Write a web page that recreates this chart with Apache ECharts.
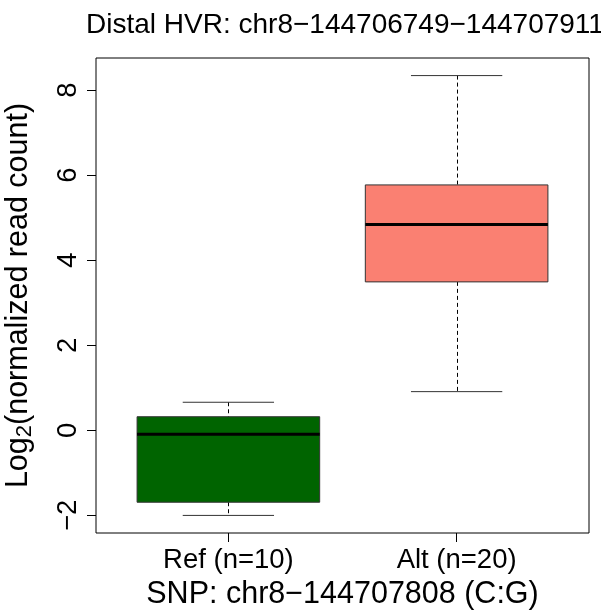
<!DOCTYPE html>
<html>
<head>
<meta charset="utf-8">
<script src="https://cdn.jsdelivr.net/npm/echarts@6/dist/echarts.min.js"></script>
<style>html,body{margin:0;padding:0;background:#fff}#c{width:601px;height:610px}</style>
</head>
<body>
<div id="c"></div>
<script>
// ---- data ----
var categories = ['Ref (n=10)', 'Alt (n=20)'];
var whiskerLow  = [-2.00, 0.91];
var q1          = [-1.69, 3.49];
var median      = [-0.09, 4.84];
var q3          = [ 0.32, 5.77];
var whiskerHigh = [ 0.66, 8.34];
var yTicks = [-2, 0, 2, 4, 6, 8];
var titleText = 'Distal HVR: chr8\u2212144706749\u2212144707911';
var xName = 'SNP: chr8\u2212144707808 (C:G)';

// ---- styles ----
var boxColors = ['#006400', '#FA8072'];
var FONT = 'Liberation Sans, Arial, sans-serif';
var FS_TICK = 27.5;
var FS_LAB = 30.5;
var FS_TITLE = 28;

var xPos = categories.map(function (_, i) { return i + 1; });
var seriesData = categories.map(function (c, i) {
  return [xPos[i], whiskerLow[i], q1[i], median[i], q3[i], whiskerHigh[i]];
});

var lo = Math.min.apply(null, whiskerLow), hi = Math.max.apply(null, whiskerHigh);
var pad = (hi - lo) * 0.04;
var xPad = categories.length * 0.04;

var chart = echarts.init(document.getElementById('c'), null, {renderer: 'canvas'});
chart.setOption({
  animation: false,
  backgroundColor: '#fff',
  title: {
    text: titleText,
    left: 340, top: 6, textAlign: 'center',
    textStyle: {fontFamily: FONT, fontSize: FS_TITLE, fontWeight: 'normal', color: '#000'}
  },
  grid: {left: 96, top: 58, width: 493, height: 475, containLabel: false, outerBoundsMode: 'none',
    show: true, borderColor: '#000', borderWidth: 1, backgroundColor: 'transparent'},
  xAxis: {
    type: 'value',
    min: 0.5 - xPad, max: categories.length + 0.5 + xPad,
    splitLine: {show: false},
    axisLine: {show: false, onZero: false},
    axisTick: {show: true, length: 9, customValues: xPos, lineStyle: {color: '#000'}},
    axisLabel: {
      customValues: xPos, margin: 13, color: '#000', fontFamily: FONT, fontSize: FS_TICK,
      formatter: function (v) { return categories[Math.round(v) - 1] || ''; }
    },
    name: xName, nameLocation: 'middle', nameGap: 44,
    nameTextStyle: {fontFamily: FONT, fontSize: FS_LAB, color: '#000'}
  },
  yAxis: {
    type: 'value',
    min: lo - pad, max: hi + pad,
    splitLine: {show: false},
    axisLine: {show: false, onZero: false},
    axisTick: {show: true, length: 9, customValues: yTicks, lineStyle: {color: '#000'}},
    axisLabel: {
      customValues: yTicks, rotate: 90, margin: 14, color: '#000', fontFamily: FONT, fontSize: FS_TICK,
      formatter: function (v) { return v < 0 ? '\u2212' + Math.abs(v) : String(v); }
    },
    name: '{a|Log}{s|2}{a|(normalized read count)}',
    nameLocation: 'middle', nameGap: 60, nameRotate: 90,
    nameTextStyle: {
      color: '#000',
      rich: {
        a: {fontFamily: FONT, fontSize: FS_LAB, color: '#000'},
        s: {fontFamily: FONT, fontSize: 22, color: '#000', padding: [13, 0, 0, 0]}
      }
    }
  },
  series: [{
    type: 'custom',
    data: seriesData,
    encode: {x: 0, y: [1, 2, 3, 4, 5]},
    renderItem: function (params, api) {
      var x = api.value(0);
      var vMin = api.value(1), vQ1 = api.value(2), vMed = api.value(3), vQ3 = api.value(4), vMax = api.value(5);
      var pL = api.coord([x - 0.4, vQ3]);
      var pR = api.coord([x + 0.4, vQ1]);
      var cL = api.coord([x - 0.2, vMax]);
      var cR = api.coord([x + 0.2, vMax]);
      var dL = api.coord([x - 0.2, vMin]);
      var dR = api.coord([x + 0.2, vMin]);
      var c = api.coord([x, vMed]);
      var pMedL = api.coord([x - 0.4, vMed]);
      var pMedR = api.coord([x + 0.4, vMed]);
      var cx = Math.round(c[0]) + 0.5;
      var col = boxColors[params.dataIndex];
      var thin = {stroke: '#333', lineWidth: 1};
      var dash = {stroke: '#000', lineWidth: 1, lineDash: [4, 3]};
      return {
        type: 'group',
        children: [
          {type: 'line', shape: {x1: cx, y1: cL[1], x2: cx, y2: pL[1]}, style: dash},
          {type: 'line', shape: {x1: cx, y1: pR[1], x2: cx, y2: dL[1]}, style: dash},
          {type: 'line', shape: {x1: cL[0], y1: cL[1], x2: cR[0], y2: cR[1]}, style: thin},
          {type: 'line', shape: {x1: dL[0], y1: dL[1], x2: dR[0], y2: dR[1]}, style: thin},
          {type: 'rect', shape: {x: pL[0], y: pL[1], width: pR[0] - pL[0], height: pR[1] - pL[1]},
            style: {fill: col, stroke: '#333', lineWidth: 1}},
          {type: 'line', shape: {x1: pMedL[0], y1: pMedL[1], x2: pMedR[0], y2: pMedR[1]},
            style: {stroke: '#000', lineWidth: 3}}
        ]
      };
    }
  }]
});
</script>
</body>
</html>
